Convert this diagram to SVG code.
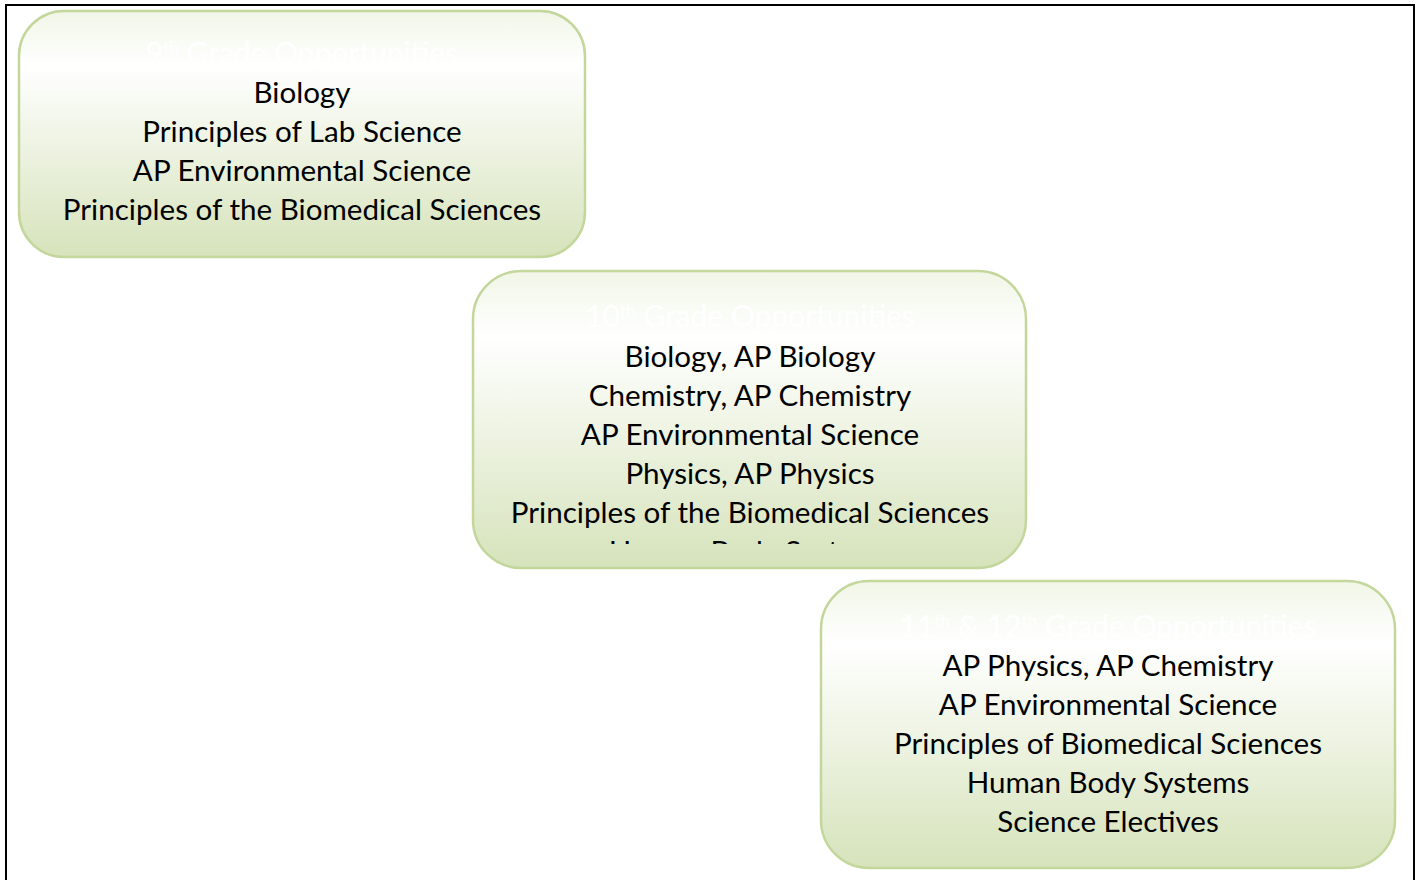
<svg xmlns="http://www.w3.org/2000/svg" width="1420" height="880" viewBox="0 0 1420 880">
<defs>
<linearGradient id="g" x1="0" y1="0" x2="0" y2="1">
<stop offset="0" stop-color="#f1f6e7"/>
<stop offset="0.22" stop-color="#ffffff"/>
<stop offset="1" stop-color="#d6e3bb"/>
</linearGradient>
<clipPath id="c2"><rect x="473" y="271" width="553" height="273"/></clipPath>
<style>
.box{fill:url(#g);stroke:#c3d69b;stroke-width:2.5}
.t{font-family:Lato,"Liberation Sans",sans-serif;font-size:29.6px;fill:#000;text-anchor:middle}
.h{font-family:Lato,"Liberation Sans",sans-serif;font-size:30px;fill:#ffffff;text-anchor:middle}
.sup{font-size:17px}
</style>
</defs>
<rect width="1420" height="880" fill="#ffffff"/>
<path d="M6,885 V5 H1414 V885" fill="none" stroke="#000" stroke-width="2"/>
<g id="connectors"></g>
<g id="node-9th">
<rect class="box" x="19" y="11" width="566" height="246" rx="45"/>
<text class="h" x="302" y="64">9<tspan class="sup" dy="-10">th</tspan><tspan dy="10"> Grade Opportunities</tspan></text>
<text class="t" x="302" y="103">Biology</text>
<text class="t" x="302" y="142">Principles of Lab Science</text>
<text class="t" x="302" y="181">AP Environmental Science</text>
<text class="t" x="302" y="220">Principles of the Biomedical Sciences</text>
</g>
<g id="node-10th">
<rect class="box" x="473" y="271" width="553" height="297" rx="48"/>
<g clip-path="url(#c2)">
<text class="h" x="750" y="327">10<tspan class="sup" dy="-10">th</tspan><tspan dy="10"> Grade Opportunities</tspan></text>
<text class="t" x="750" y="367">Biology, AP Biology</text>
<text class="t" x="750" y="406">Chemistry, AP Chemistry</text>
<text class="t" x="750" y="445">AP Environmental Science</text>
<text class="t" x="750" y="484">Physics, AP Physics</text>
<text class="t" x="750" y="523">Principles of the Biomedical Sciences</text>
<text class="t" x="750" y="562">Human Body Systems</text>
</g>
</g>
<g id="node-11th">
<rect class="box" x="821" y="581" width="574" height="287" rx="48"/>
<text class="h" x="1108" y="637">11<tspan class="sup" dy="-10">th</tspan><tspan dy="10"> &amp; 12</tspan><tspan class="sup" dy="-10">th</tspan><tspan dy="10"> Grade Opportunities</tspan></text>
<text class="t" x="1108" y="676">AP Physics, AP Chemistry</text>
<text class="t" x="1108" y="715">AP Environmental Science</text>
<text class="t" x="1108" y="754">Principles of Biomedical Sciences</text>
<text class="t" x="1108" y="793">Human Body Systems</text>
<text class="t" x="1108" y="832">Science Electives</text>
</g>
</svg>
